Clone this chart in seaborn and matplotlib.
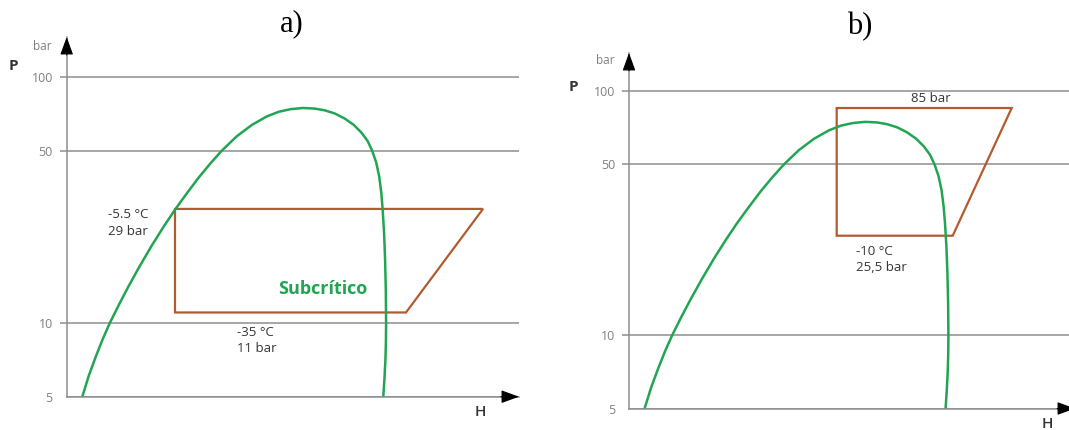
import matplotlib
matplotlib.use("Agg")
import matplotlib.pyplot as plt
import seaborn as sns
from matplotlib.ticker import NullLocator

# Saturation dome: enthalpy (arbitrary units) and pressure (bar)
dome_h = [15.6, 22.0, 29.0, 36.0, 43.3, 52.0, 62.0, 73.0, 85.0, 97.0, 108.3,
          120.0, 132.0, 143.5, 155.0, 170.0, 185.0, 200.0, 212.0, 224.0,
          236.3, 248.0, 258.0, 268.0, 278.0, 287.0, 295.0, 301.0, 305.5,
          309.5, 312.5, 314.6, 316.0, 317.4, 318.4, 319.1, 319.4, 319.2,
          318.7, 317.8, 316.6]
dome_p = [5.0, 6.07, 7.26, 8.57, 10.0, 11.78, 14.09, 16.97, 20.56, 24.58, 28.8,
          33.5, 38.9, 44.3, 50.0, 57.2, 63.6, 68.9, 72.0, 73.8,
          74.6, 74.2, 73.0, 70.9, 67.6, 63.7, 59.1, 54.7, 50.0,
          44.8, 39.3, 33.7, 28.7, 23.1, 18.0, 13.6, 10.0, 8.27,
          7.05, 5.96, 5.0]

# Subcritical cycle (a)
cycle_a_h = [108.3, 416.3, 339.3, 108.3, 108.3]
cycle_a_p = [29.0, 29.0, 11.0, 11.0, 29.0]

# Transcritical cycle (b)
cycle_b_h = [207.7, 382.7, 323.7, 207.7, 207.7]
cycle_b_p = [85.0, 85.0, 25.5, 25.5, 85.0]

p_ticks = [5, 10, 50, 100]
p_tick_labels = ["5", "10", "50", "100"]

GREEN = "#22a553"
BROWN = "#b35a30"
GRID = "#8e8e8e"
TEXT = "#353535"
TICKTXT = "#808080"

sns.set_theme(style="white")
plt.rcParams["font.family"] = ["Open Sans", "DejaVu Sans"]

W, H = 1069, 430
fig = plt.figure(figsize=(W / 100, H / 100), dpi=100)


def rect(x0, x1, ytop, ybot):
    return [x0 / W, 1 - ybot / H, (x1 - x0) / W, (ybot - ytop) / H]


def setup_axes(ax, xmax, ptop):
    ax.set_yscale("log")
    ax.set_xlim(0, xmax)
    ax.set_ylim(5, ptop)
    ax.set_xticks([])
    ax.set_yticks(p_ticks)
    ax.set_yticklabels(p_tick_labels)
    ax.yaxis.set_minor_locator(NullLocator())
    ax.tick_params(axis="y", which="major", length=5, width=1.1, color=GRID,
                   labelcolor=TICKTXT, labelsize=9, pad=5, left=True)
    ax.yaxis.get_major_ticks()[0].tick1line.set_visible(False)
    ax.grid(axis="y", which="major", color=GRID, lw=1.1)
    ax.grid(axis="x", visible=False)
    for s in ("top", "right"):
        ax.spines[s].set_visible(False)
    for s in ("left", "bottom"):
        ax.spines[s].set_visible(True)
        ax.spines[s].set_color(GRID)
        ax.spines[s].set_linewidth(1.1)
    ax.set_facecolor("none")
    head = dict(arrowstyle="-|>,head_length=0.55,head_width=0.2",
                color="black", lw=0.8, shrinkA=0, shrinkB=0,
                mutation_scale=20)
    ax.annotate("", xy=(0, 1), xytext=(0, 0.95), xycoords="axes fraction",
                arrowprops=head, annotation_clip=False)
    ax.annotate("", xy=(1, 0), xytext=(0.96, 0), xycoords="axes fraction",
                arrowprops=head, annotation_clip=False)


def draw(ax, ch, cp):
    sns.lineplot(x=ch, y=cp, sort=False, estimator=None, color=BROWN,
                 lw=1.6, ax=ax, solid_joinstyle="miter")
    sns.lineplot(x=dome_h, y=dome_p, sort=False, estimator=None, color=GREEN,
                 lw=1.8, ax=ax, solid_joinstyle="round")


def ftext(x, y, s, **kw):
    fig.text(x / W, 1 - y / H, s, **kw)


# Panel a: subcritical cycle
ax_a = fig.add_axes(rect(66.7, 519, 37, 396.7))
setup_axes(ax_a, 452.3, 145.0)
draw(ax_a, cycle_a_h, cycle_a_p)
ax_a.annotate("-5.5 °C\n29 bar", xy=(cycle_a_h[0], cycle_a_p[0]),
              xytext=(-48, -10), textcoords="offset points", ha="left",
              va="center", fontsize=9.5, color=TEXT, linespacing=1.35)
ax_a.annotate("-35 °C\n11 bar", xy=(cycle_a_h[3], cycle_a_p[3]),
              xytext=(44.5, -20), textcoords="offset points", ha="left",
              va="center", fontsize=9.5, color=TEXT, linespacing=1.35)
ax_a.text(256.3, 13.7, "Subcrítico", ha="center", va="center", fontsize=13,
          fontweight="bold", color=GREEN)

# Panel b: transcritical cycle
ax_b = fig.add_axes(rect(629, 1075, 53, 408.5))
setup_axes(ax_b, 446.0, 142.8)
draw(ax_b, cycle_b_h, cycle_b_p)
ax_b.annotate("85 bar", xy=((cycle_b_h[0] + cycle_b_h[1]) / 2, cycle_b_p[0]),
              xytext=(5, 2), textcoords="offset points", ha="center",
              va="bottom", fontsize=9.5, color=TEXT)
ax_b.annotate("-10 °C\n25,5 bar", xy=(cycle_b_h[3], cycle_b_p[3]),
              xytext=(14, -17), textcoords="offset points", ha="left",
              va="center", fontsize=9.5, color=TEXT, linespacing=1.35)

# Axis names and panel titles
for px, py in ((13, 66), (573, 87)):
    ftext(px, py, "P", ha="center", va="center", fontsize=11,
          fontweight="bold", color=TEXT)
for px, py in ((52, 47), (615, 61)):
    ftext(px, py, "bar", ha="right", va="center", fontsize=8.5, color=TICKTXT)
for px, py in ((480, 412), (1047, 424)):
    ftext(px, py, "H", ha="center", va="center", fontsize=11,
          fontweight="semibold", color=TEXT)
ftext(292, 24, "a)", ha="center", va="center", fontsize=22,
      family="Liberation Serif", color="black")
ftext(860, 27, "b)", ha="center", va="center", fontsize=22,
      family="Liberation Serif", color="black")

fig.savefig("out.png", dpi=100, facecolor="white")
